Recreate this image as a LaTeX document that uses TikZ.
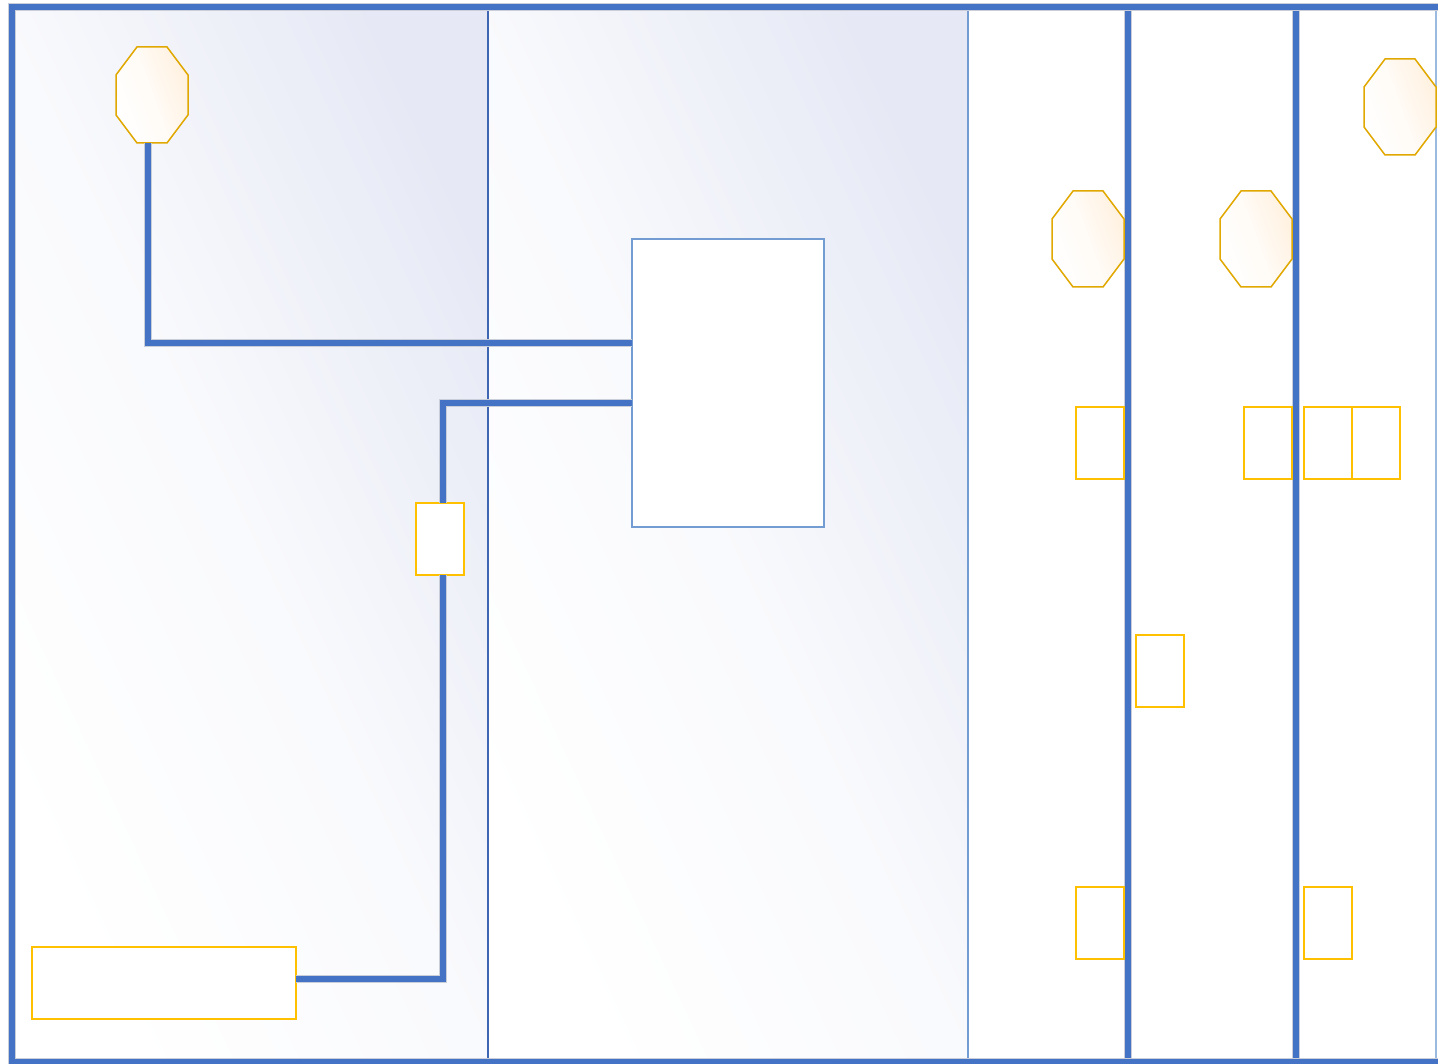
\documentclass[tikz,border=0pt]{standalone}
\usetikzlibrary{calc}
\definecolor{pipeblue}{HTML}{4472C4}
\definecolor{edgegray}{HTML}{C9CED8}
\definecolor{lav}{RGB}{230,233,245}
\definecolor{darkline}{HTML}{3F66B2}
\definecolor{lightline}{HTML}{729CD2}
\definecolor{gold}{HTML}{E0A800}
\definecolor{amber}{HTML}{FFC000}
\definecolor{peach}{HTML}{FFF1E0}

\begin{document}
\begin{tikzpicture}[x=1pt, y=-1pt,
  room/.style={top color=lav, bottom color=white, middle color=lav!25!white, shading angle=-65},
  pipe/.style={pipeblue, line width=6.8pt, preaction={draw, edgegray, line width=8.8pt}},
  wall/.style={pipe},
  divider/.style={darkline, line width=1.6pt},
  softdivider/.style={lightline, line width=1.6pt},
  lampbox/.style={rectangle, draw=none, minimum width=72pt, minimum height=96pt, inner sep=0pt, outer sep=0pt},
  lamp/.style={draw=gold, line width=1.5pt, top color=peach, bottom color=white, middle color=peach!30!white, shading angle=-70},
  switch/.style={rectangle, draw=amber, fill=white, line width=2pt, minimum width=48pt, minimum height=72pt, inner sep=0pt, outer sep=0pt},
  panelbox/.style={rectangle, draw=lightline, fill=white, line width=1.5pt, minimum width=192pt, minimum height=288pt, inner sep=0pt, outer sep=0pt},
]
\useasboundingbox (0,0) rectangle (1438,1064);

% rooms
\shade[room] (15,10) rectangle (488,1058);
\shade[room] (488,10) rectangle (968,1058);
\draw[divider] (488,10) -- (488,1058);
\draw[softdivider] (968,10) -- (968,1058);
\draw[lightline!70, line width=1.5pt] (1436,10) -- (1436,1058);
\draw[wall] (1128,10) -- (1128,1058);
\draw[wall] (1296,10) -- (1296,1058);

% frame
\draw[wall] (12,1064) -- (12,7) -- (1438,7);
\draw[wall] (15,1062) -- (1438,1062);

% lamps
\node[lampbox] (lamp1) at (152,95) {};
\node[lampbox] (lamp2) at (1088,239) {};
\node[lampbox] (lamp3) at (1256,239) {};
\node[lampbox] (lamp4) at (1400,107) {};
\draw[lamp] (lamp1) +(-15,-48) -- +(15,-48) -- +(36,-20) -- +(36,20) -- +(15,48) -- +(-15,48) -- +(-36,20) -- +(-36,-20) -- cycle;
\draw[lamp] (lamp2) +(-15,-48) -- +(15,-48) -- +(36,-20) -- +(36,20) -- +(15,48) -- +(-15,48) -- +(-36,20) -- +(-36,-20) -- cycle;
\draw[lamp] (lamp3) +(-15,-48) -- +(15,-48) -- +(36,-20) -- +(36,20) -- +(15,48) -- +(-15,48) -- +(-36,20) -- +(-36,-20) -- cycle;
\draw[lamp] (lamp4) +(-15,-48) -- +(15,-48) -- +(36,-20) -- +(36,20) -- +(15,48) -- +(-15,48) -- +(-36,20) -- +(-36,-20) -- cycle;

% panel, valve, tank
\node[panelbox] (panel) at (728,383) {};
\node[switch] (valve) at (440,539) {};
\node[switch, minimum width=264pt] (tank) at (164,983) {};

% switches
\node[switch] (sw1) at (1100,443) {};
\node[switch] (sw2) at (1268,443) {};
\node[switch] (sw3) at (1328,443) {};
\node[switch] (sw4) at (1376,443) {};
\node[switch] (sw5) at (1160,671) {};
\node[switch] (sw6) at (1100,923) {};
\node[switch] (sw7) at (1328,923) {};

% pipes
\draw[pipe] ([xshift=-4pt]lamp1.south) |- ([yshift=40pt]panel.west);
\draw[pipe] ([yshift=-20pt]panel.west) -| ([xshift=3pt]valve.north);
\draw[pipe] ([xshift=3pt]valve.south) |- ([yshift=4pt]tank.east);
\end{tikzpicture}
\end{document}
